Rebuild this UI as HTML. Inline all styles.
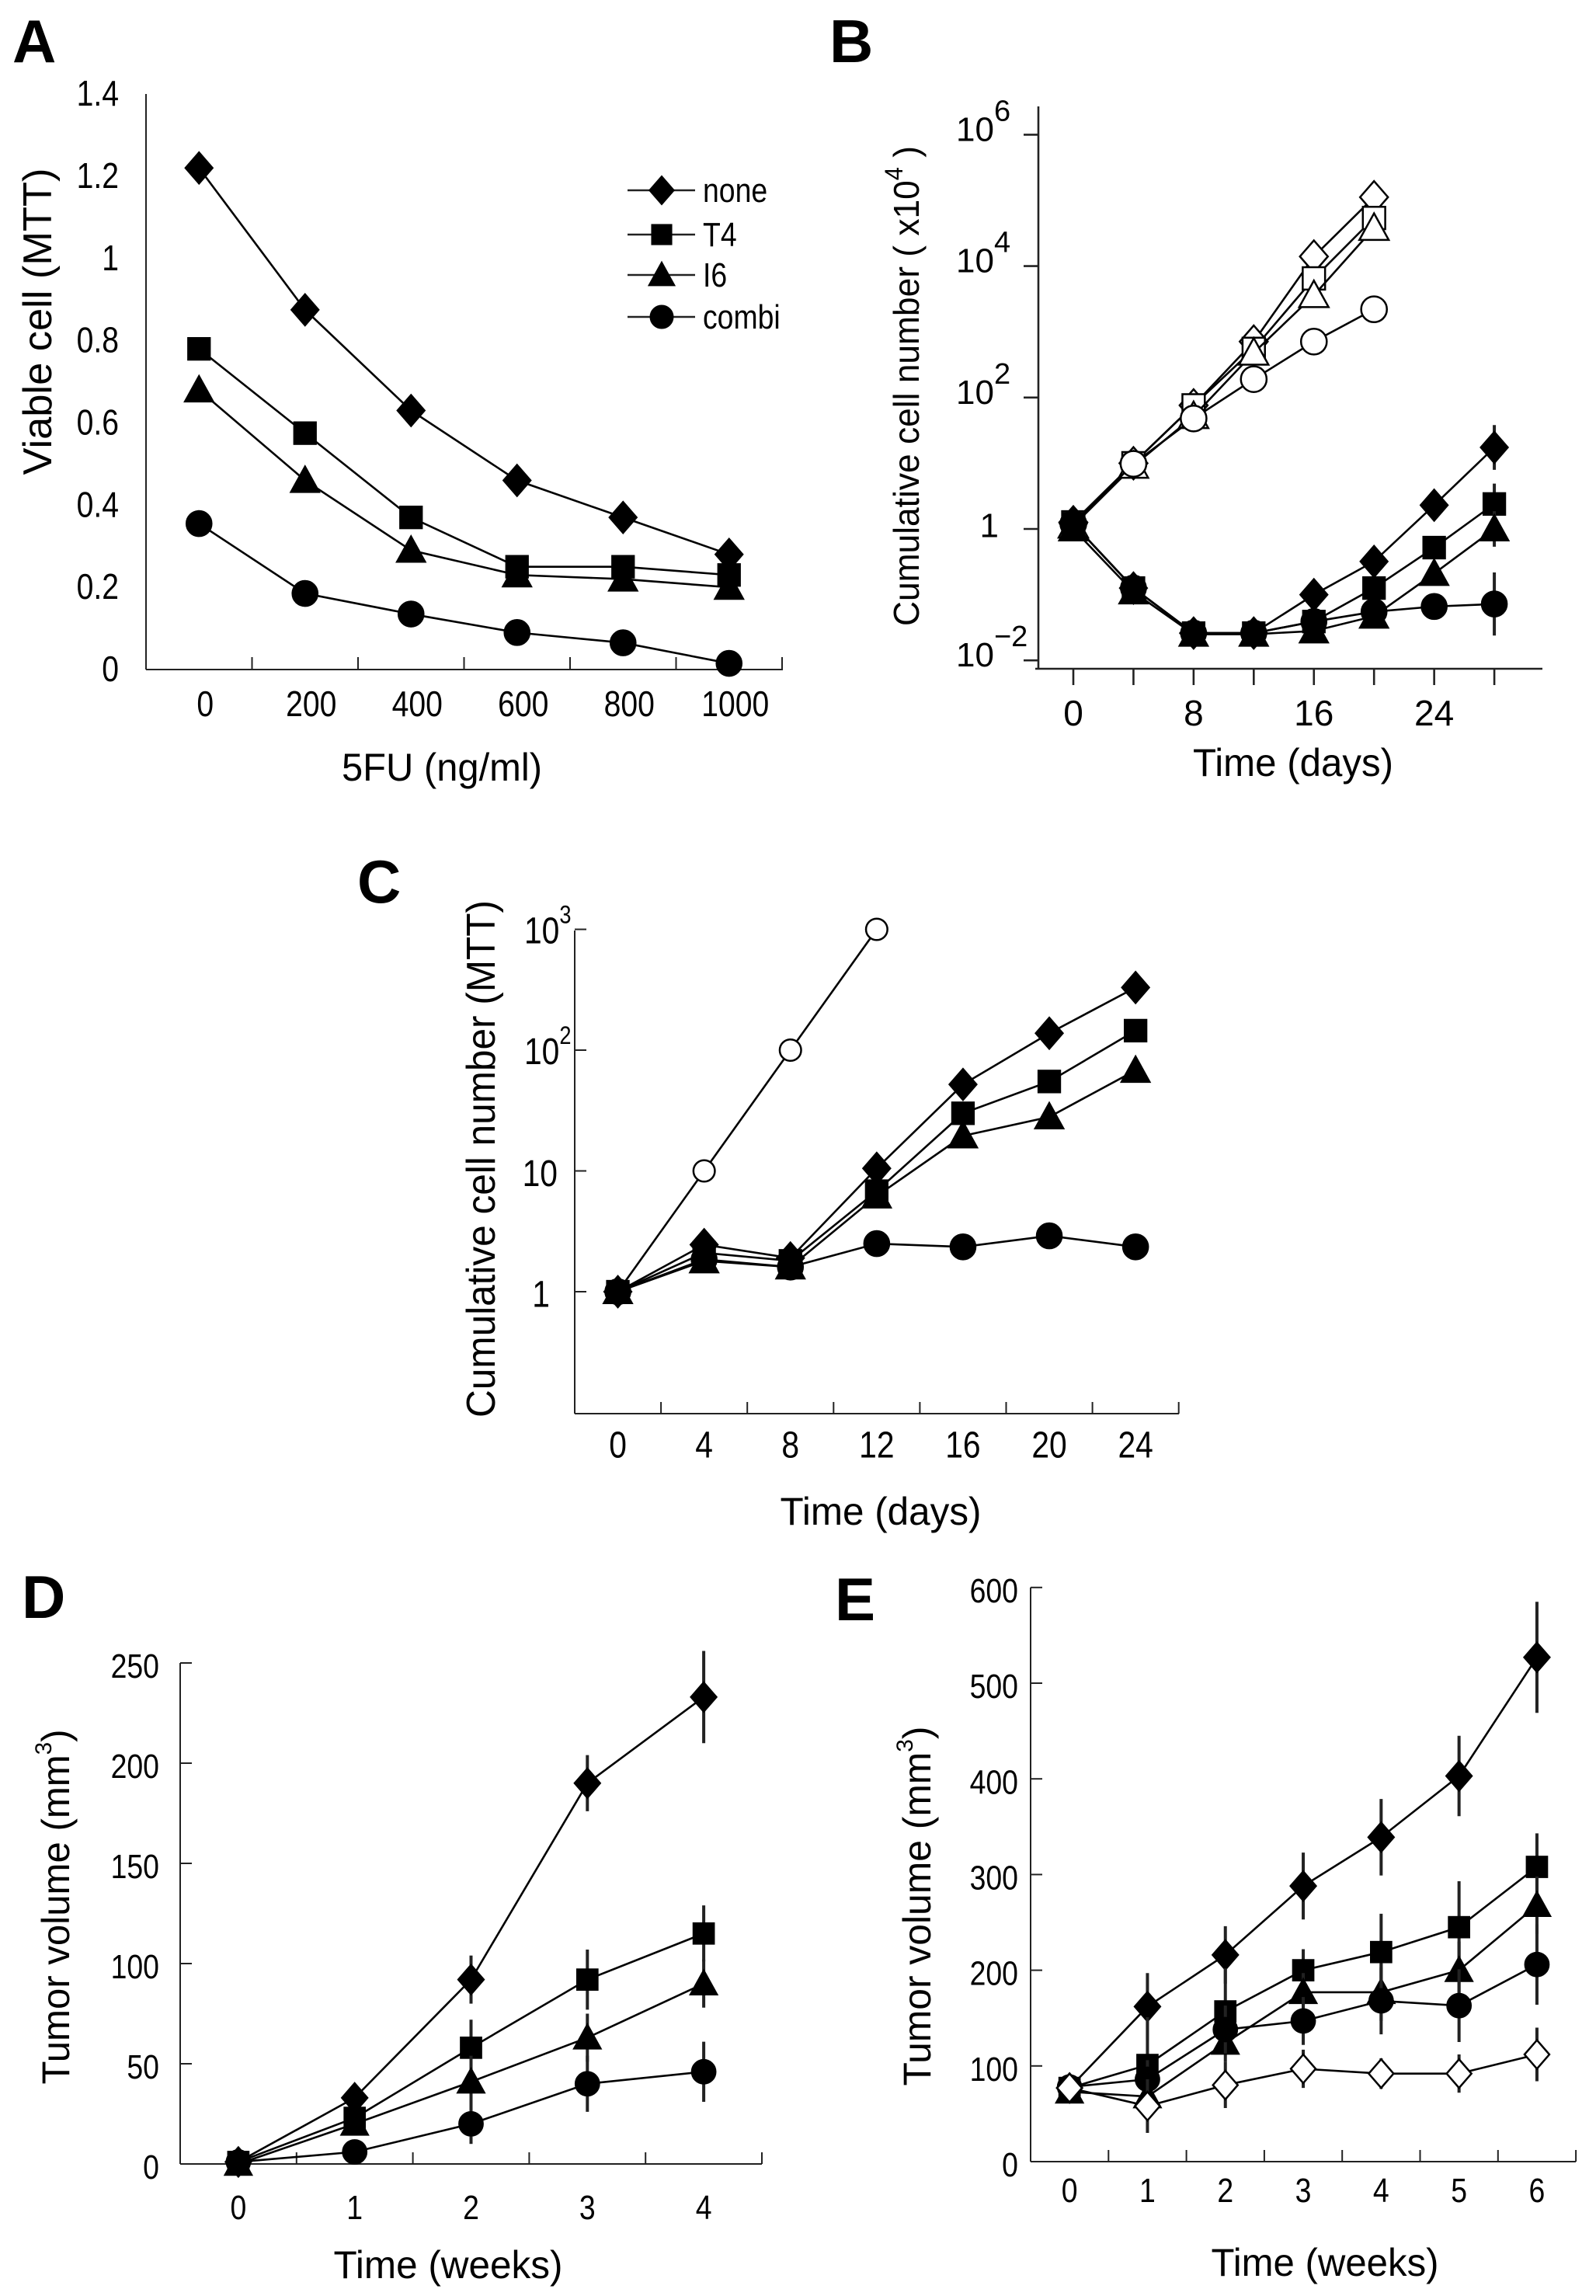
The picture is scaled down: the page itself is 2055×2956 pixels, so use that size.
<!DOCTYPE html>
<html><head><meta charset="utf-8"><title>Figure</title>
<style>
html,body{margin:0;padding:0;background:#fff;}
svg{display:block;}
text{font-family:"Liberation Sans Narrow","Liberation Sans",Arial,sans-serif;fill:#000;}
.ttl{font-family:"Liberation Sans",Arial,sans-serif;}
.lab{font-family:"Liberation Sans",Arial,sans-serif;font-weight:bold;}
</style></head>
<body>
<svg id="fig" xmlns="http://www.w3.org/2000/svg" width="2055" height="2956" viewBox="0 0 2055 2956">
<rect x="0" y="0" width="2055" height="2956" fill="#fff"/>
<text class="lab" x="16" y="80" font-size="78">A</text>
<text class="lab" x="1068" y="80" font-size="78">B</text>
<text class="lab" x="460" y="1162" font-size="78">C</text>
<text class="lab" x="28" y="2083" font-size="78">D</text>
<text class="lab" x="1075" y="2086" font-size="78">E</text>
<text class="ttl" x="49" y="414" font-size="52" text-anchor="middle" dominant-baseline="central" transform="rotate(-90 49 414)" textLength="395" lengthAdjust="spacingAndGlyphs">Viable cell (MTT)</text>
<text class="ttl" x="440" y="1005" font-size="50" textLength="258" lengthAdjust="spacingAndGlyphs">5FU (ng/ml)</text>
<text class="ttl" x="1167" y="497" font-size="46" text-anchor="middle" dominant-baseline="central" transform="rotate(-90 1167 497)" textLength="618" lengthAdjust="spacingAndGlyphs">Cumulative cell number ( x10<tspan dy="-16" font-size="32">4</tspan><tspan dy="16"> )</tspan></text>
<text class="ttl" x="1665" y="982" font-size="50" text-anchor="middle" dominant-baseline="central" textLength="258" lengthAdjust="spacingAndGlyphs">Time (days)</text>
<text class="ttl" x="620" y="1492" font-size="52" text-anchor="middle" dominant-baseline="central" transform="rotate(-90 620 1492)" textLength="666" lengthAdjust="spacingAndGlyphs">Cumulative cell number (MTT)</text>
<text class="ttl" x="1134" y="1946" font-size="50" text-anchor="middle" dominant-baseline="central" textLength="259" lengthAdjust="spacingAndGlyphs">Time (days)</text>
<text class="ttl" x="72" y="2455" font-size="50" text-anchor="middle" dominant-baseline="central" transform="rotate(-90 72 2455)" textLength="457" lengthAdjust="spacingAndGlyphs">Tumor volume (mm<tspan dy="-16" font-size="30">3</tspan><tspan dy="16">)</tspan></text>
<text class="ttl" x="577" y="2916" font-size="50" text-anchor="middle" dominant-baseline="central" textLength="295" lengthAdjust="spacingAndGlyphs">Time (weeks)</text>
<text class="ttl" x="1181" y="2454" font-size="50" text-anchor="middle" dominant-baseline="central" transform="rotate(-90 1181 2454)" textLength="463" lengthAdjust="spacingAndGlyphs">Tumor volume (mm<tspan dy="-16" font-size="30">3</tspan><tspan dy="16">)</tspan></text>
<text class="ttl" x="1706" y="2913" font-size="50" text-anchor="middle" dominant-baseline="central" textLength="293" lengthAdjust="spacingAndGlyphs">Time (weeks)</text>
<g id="legendA"></g>
<g id="plots"></g>
</svg>
<script>
// ---------- Panel A data ----------
const A_doses = ["0","200","400","600","800","1000"];
const A_none  = [1.22, 0.875, 0.63, 0.46, 0.37, 0.28];
const A_t4    = [0.78, 0.575, 0.37, 0.25, 0.25, 0.23];
const A_i6    = [0.68, 0.46, 0.29, 0.23, 0.22, 0.20];
const A_combi = [0.355, 0.185, 0.135, 0.09, 0.065, 0.015];
const A_yticks = [0, 0.2, 0.4, 0.6, 0.8, 1, 1.2, 1.4];
const A_ytickLabels = ["0","0.2","0.4","0.6","0.8","1","1.2","1.4"];
const A_legend = ["none","T4","I6","combi"];
// ---------- Panel B data ----------
const B_daysOpen = [0, 4, 8, 12, 16, 20];
const B_openNone  = [1.26, 10, 76, 710, 14000, 112000];
const B_openT4    = [1.26, 10, 76, 550, 6500, 54000];
const B_openI6    = [1.12, 9.1, 52, 480, 3600, 38000];
const B_openCombi = [1.2, 9.8, 48, 190, 710, 2200];
const B_days = [0, 4, 8, 12, 16, 20, 24, 28];
const B_none  = [1.2, 0.126, 0.026, 0.026, 0.1, 0.32, 2.3, 17.4];
const B_t4    = [1.2, 0.126, 0.026, 0.026, 0.039, 0.126, 0.52, 2.4];
const B_i6    = [1.0, 0.11, 0.025, 0.025, 0.028, 0.047, 0.21, 1.0];
const B_combi = [1.2, 0.126, 0.026, 0.026, 0.039, 0.055, 0.066, 0.072];
const B_noneErr  = [0, 0, 0, 0, 0, 0, 0, 0.34];
const B_t4Err    = [0, 0, 0, 0, 0, 0, 0, 0.31];
const B_i6Err    = [0, 0, 0, 0, 0, 0, 0, 0.27];
const B_combiErr = [0, 0, 0, 0, 0, 0, 0, 0.48];
const B_yExp = [6, 4, 2, 0, -2];
const B_xticks = [0, 4, 8, 12, 16, 20, 24, 28];
const B_xtickLabels = ["0","","8","","16","","24",""];
// ---------- Panel C data ----------
const C_days = ["0","4","8","12","16","20","24"];
const C_open  = [1, 10, 100, 1000];
const C_none  = [1, 2.45, 1.9, 10.5, 52, 138, 330];
const C_t4    = [1, 2.1, 1.8, 6.8, 30, 55, 145];
const C_i6    = [1, 1.8, 1.6, 6.2, 19.5, 28, 68];
const C_combi = [1, 1.85, 1.6, 2.5, 2.35, 2.9, 2.35];
const C_yExp = [3, 2, 1, 0];
// ---------- Panel D data ----------
const D_weeks = ["0","1","2","3","4"];
const D_none  = [1, 33, 92, 190, 233];
const D_t4    = [1, 23, 58, 92, 115];
const D_i6    = [0, 20, 41, 63, 90];
const D_combi = [1, 6, 20, 40, 46];
const D_noneErr  = [2, 4, 12, 14, 23];
const D_t4Err    = [0, 3, 14, 15, 14];
const D_i6Err    = [0, 3, 13, 12, 12];
const D_combiErr = [0, 2, 10, 14, 15];
const D_yticks = [0, 50, 100, 150, 200, 250];
// ---------- Panel E data ----------
const E_weeks = ["0","1","2","3","4","5","6"];
const E_none  = [77, 162, 216, 288, 339, 403, 527];
const E_t4    = [77, 101, 157, 200, 219, 245, 308];
const E_i6    = [73, 68, 124, 177, 177, 200, 268];
const E_combi = [78, 86, 138, 147, 168, 163, 206];
const E_open  = [77, 58, 80, 97, 92, 92, 112];
const E_noneErr  = [0, 35, 30, 35, 40, 42, 58];
const E_t4Err    = [0, 50, 45, 22, 40, 48, 35];
const E_i6Err    = [0, 20, 20, 20, 30, 30, 30];
const E_combiErr = [0, 20, 25, 25, 35, 38, 42];
const E_openErr  = [0, 28, 24, 20, 16, 20, 28];
const E_yticks = [0, 100, 200, 300, 400, 500, 600];

const NS = "http://www.w3.org/2000/svg";
const root = document.getElementById("plots");
function mk(tag, attrs, parent) {
  const e = document.createElementNS(NS, tag);
  for (const k in attrs) e.setAttribute(k, attrs[k]);
  (parent || root).appendChild(e);
  return e;
}
function line(p, x1, y1, x2, y2, w, name) {
  const e = mk("line", {x1:x1, y1:y1, x2:x2, y2:y2, stroke:"#222", "stroke-width":w||2}, p);
  
  
  return e;
}
function label(p, x, y, str, size, anchor, name, narrow) {
  const e = mk("text", {x:x, y:y, "font-size":size, "text-anchor":anchor, "dominant-baseline":"central"}, p);
  if (narrow) e.setAttribute("transform", `translate(${x},0) scale(0.85,1) translate(${-x},0)`);
  e.textContent = str;
  
  
  return e;
}
function marker(p, type, x, y, s, filled, name) {
  let e;
  const fill = filled ? "#000" : "#fff";
  const sw = filled ? 1.5 : 2.5;
  if (type === "diamond") {
    e = mk("polygon", {points:`${x},${y-s*1.15} ${x+s},${y} ${x},${y+s*1.15} ${x-s},${y}`, fill:fill, stroke:"#000", "stroke-width":sw}, p);
  } else if (type === "square") {
    const h = s*0.8;
    e = mk("rect", {x:x-h, y:y-h, width:2*h, height:2*h, fill:fill, stroke:"#000", "stroke-width":sw}, p);
  } else if (type === "triangle") {
    e = mk("polygon", {points:`${x},${y-s*1.05} ${x+s*1.05},${y+s*0.85} ${x-s*1.05},${y+s*0.85}`, fill:fill, stroke:"#000", "stroke-width":sw}, p);
  } else {
    e = mk("circle", {cx:x, cy:y, r:s*0.92, fill:fill, stroke:"#000", "stroke-width":sw}, p);
  }
  
  
  return e;
}
function series(p, xs, vals, xf, yf, type, filled, s, name, errs, errf) {
  const g = mk("g", {}, p);
  
  
  const pts = vals.map((v, i) => xf(xs[i]) + "," + yf(v)).join(" ");
  const pl = mk("polyline", {points:pts, fill:"none", stroke:"#000", "stroke-width":2.6}, g);
  
  
  if (errs) {
    vals.forEach((v, i) => {
      if (!errs[i]) return;
      const [lo, hi] = errf(v, errs[i]);
      line(g, xf(xs[i]), yf(lo), xf(xs[i]), yf(hi), 4, name + '-error-bar');
    });
  }
  vals.forEach((v, i) => marker(g, type, xf(xs[i]), yf(v), s, filled, name + '-point'));
  return g;
}
const linErr = (v, e) => [v - e, v + e];
const logErr = (v, e) => [v / Math.pow(10, e), v * Math.pow(10, e)];
const idx = arr => arr.map((_, i) => i);

// ================= Panel A =================
const gA = mk("g", {});  
const xA = i => 188 + (i + 0.5) * 136.5;
const yA = v => 862 - v * 529.3;
line(gA, 188, yA(1.4), 188, 862, 2, 'a-y-axis');
line(gA, 188, 862, 1008, 862, 2, 'a-x-axis');
for (let i = 1; i <= 6; i++) line(gA, 188 + i*136.5, 862, 188 + i*136.5, 846, 2, 'a-x-tick');
A_yticks.forEach((t, i) => label(gA, 153, yA(t), A_ytickLabels[i], 46, "end", 'a-y-tick-label', true));
A_doses.forEach((d, i) => label(gA, xA(i) + 8, 907, d, 46, "middle", 'a-x-tick-label', true));
series(gA, idx(A_none), A_none, xA, yA, "diamond", true, 18, 'a-series-none');
series(gA, idx(A_t4), A_t4, xA, yA, "square", true, 18, 'a-series-t4');
series(gA, idx(A_i6), A_i6, xA, yA, "triangle", true, 18, 'a-series-i6');
series(gA, idx(A_combi), A_combi, xA, yA, "circle", true, 18, 'a-series-combi');
const legG = document.getElementById("legendA");
const legTypes = ["diamond","square","triangle","circle"];
const legY = [245, 302, 354, 408];
A_legend.forEach((n, i) => {
  line(legG, 808, legY[i], 895, legY[i], 2.6, 'legend-line-' + n);
  marker(legG, legTypes[i], 852, legY[i], 16, true, 'legend-marker-' + n);
  label(legG, 905, legY[i], n, 44, "start", 'legend-entry-' + n, true);
});

// ================= Panel B =================
const gB = mk("g", {});  
const xB = d => 1382 + d * 19.36;
const yB = v => 681 - 84.6 * Math.log10(v);
line(gB, 1337, 137, 1337, 861, 2.6, 'b-y-axis');
line(gB, 1333, 861, 1986, 861, 2.6, 'b-x-axis');
B_yExp.forEach(e => {
  const y = 681 - 84.6 * e;
  line(gB, 1318, y, 1337, y, 2.6, 'b-y-tick');
  if (e === 0) {
    label(gB, 1286, y - 4, "1", 44, "end", 'b-y-tick-label', false);
  } else {
    const t = mk("text", {x:1231, y:y + 8, "font-size":44, class:"ttl"}, gB);
    
    
    t.appendChild(document.createTextNode("10"));
    const sp = mk("tspan", {dy:-26, "font-size":38}, t);
    sp.textContent = (e < 0 ? "\u2212" : "") + Math.abs(e);
  }
});
B_xticks.forEach((d, i) => {
  line(gB, xB(d), 861, xB(d), 882, 2.6, 'b-x-tick');
  if (B_xtickLabels[i]) {
    const t = label(gB, xB(d), 918, B_xtickLabels[i], 46, "middle", 'b-x-tick-label', false);
    t.setAttribute('class', 'ttl');
  }
});
series(gB, B_daysOpen, B_openNone, xB, yB, "diamond", false, 18, 'b-series-none-untreated');
series(gB, B_daysOpen, B_openT4, xB, yB, "square", false, 18, 'b-series-t4-untreated');
series(gB, B_daysOpen, B_openI6, xB, yB, "triangle", false, 18, 'b-series-i6-untreated');
series(gB, B_daysOpen, B_openCombi, xB, yB, "circle", false, 18, 'b-series-combi-untreated');
series(gB, B_days, B_none, xB, yB, "diamond", true, 18, 'b-series-none', B_noneErr, logErr);
series(gB, B_days, B_t4, xB, yB, "square", true, 18, 'b-series-t4', B_t4Err, logErr);
series(gB, B_days, B_i6, xB, yB, "triangle", true, 18, 'b-series-i6', B_i6Err, logErr);
series(gB, B_days, B_combi, xB, yB, "circle", true, 18, 'b-series-combi', B_combiErr, logErr);

// ================= Panel C =================
const gC = mk("g", {});  
const xC = i => 740 + (i + 0.5) * 111.1;
const yC = v => 1663 - 155.5 * Math.log10(v);
line(gC, 740, 1198, 740, 1820, 2, 'c-y-axis');
line(gC, 740, 1820, 1518, 1820, 2, 'c-x-axis');
for (let i = 1; i <= 7; i++) line(gC, 740 + i*111.1, 1820, 740 + i*111.1, 1805, 2, 'c-x-tick');
C_yExp.forEach(e => {
  const y = 1663 - 155.5 * e;
  line(gC, 740, y, 755, y, 2, 'c-y-tick');
  if (e === 0) label(gC, 708, y + 4, "1", 48, "end", 'c-y-tick-label', true);
  else if (e === 1) label(gC, 718, y + 4, "10", 48, "end", 'c-y-tick-label', true);
  else {
    const t = mk("text", {x:675, y:y + 18, "font-size":48, transform:"translate(675,0) scale(0.85,1) translate(-675,0)"}, gC);
    
    
    t.appendChild(document.createTextNode("10"));
    const sp = mk("tspan", {dy:-26, "font-size":32}, t);
    sp.textContent = String(e);
  }
});
C_days.forEach((d, i) => label(gC, xC(i), 1861, d, 48, "middle", 'c-x-tick-label', true));
series(gC, idx(C_open), C_open, xC, yC, "circle", false, 15, 'c-series-untreated');
series(gC, idx(C_none), C_none, xC, yC, "diamond", true, 18, 'c-series-none');
series(gC, idx(C_t4), C_t4, xC, yC, "square", true, 18, 'c-series-t4');
series(gC, idx(C_i6), C_i6, xC, yC, "triangle", true, 18, 'c-series-i6');
series(gC, idx(C_combi), C_combi, xC, yC, "circle", true, 18, 'c-series-combi');

// ================= Panel D =================
const gD = mk("g", {});  
const xD = i => 232 + (i + 0.5) * 149.8;
const yD = v => 2786 - 2.58 * v;
line(gD, 232, yD(250), 232, 2786, 2, 'd-y-axis');
line(gD, 232, 2786, 981, 2786, 2, 'd-x-axis');
for (let i = 1; i <= 5; i++) line(gD, 232 + i*149.8, 2786, 232 + i*149.8, 2771, 2, 'd-x-tick');
D_yticks.forEach(t => {
  line(gD, 232, yD(t), 247, yD(t), 2, 'd-y-tick');
  label(gD, 205, yD(t) + 4, String(t), 44, "end", 'd-y-tick-label', true);
});
D_weeks.forEach((w, i) => label(gD, xD(i), 2842, w, 44, "middle", 'd-x-tick-label', true));
series(gD, idx(D_none), D_none, xD, yD, "diamond", true, 17, 'd-series-none', D_noneErr, linErr);
series(gD, idx(D_t4), D_t4, xD, yD, "square", true, 17, 'd-series-t4', D_t4Err, linErr);
series(gD, idx(D_i6), D_i6, xD, yD, "triangle", true, 17, 'd-series-i6', D_i6Err, linErr);
series(gD, idx(D_combi), D_combi, xD, yD, "circle", true, 17, 'd-series-combi', D_combiErr, linErr);

// ================= Panel E =================
const gE = mk("g", {});  
const xE = i => 1327 + (i + 0.5) * 100.3;
const yE = v => 2783 - 1.232 * v;
line(gE, 1327, yE(600), 1327, 2783, 2, 'e-y-axis');
line(gE, 1327, 2783, 2029, 2783, 2, 'e-x-axis');
for (let i = 1; i <= 7; i++) line(gE, 1327 + i*100.3, 2783, 1327 + i*100.3, 2768, 2, 'e-x-tick');
E_yticks.forEach(t => {
  line(gE, 1327, yE(t), 1342, yE(t), 2, 'e-y-tick');
  label(gE, 1311, yE(t) + 4, String(t), 44, "end", 'e-y-tick-label', true);
});
E_weeks.forEach((w, i) => label(gE, xE(i), 2820, w, 44, "middle", 'e-x-tick-label', true));
series(gE, idx(E_none), E_none, xE, yE, "diamond", true, 17, 'e-series-none', E_noneErr, linErr);
series(gE, idx(E_t4), E_t4, xE, yE, "square", true, 17, 'e-series-t4', E_t4Err, linErr);
series(gE, idx(E_i6), E_i6, xE, yE, "triangle", true, 17, 'e-series-i6', E_i6Err, linErr);
series(gE, idx(E_combi), E_combi, xE, yE, "circle", true, 17, 'e-series-combi', E_combiErr, linErr);
series(gE, idx(E_open), E_open, xE, yE, "diamond", false, 16, 'e-series-untreated', E_openErr, linErr);
</script>
</body></html>
